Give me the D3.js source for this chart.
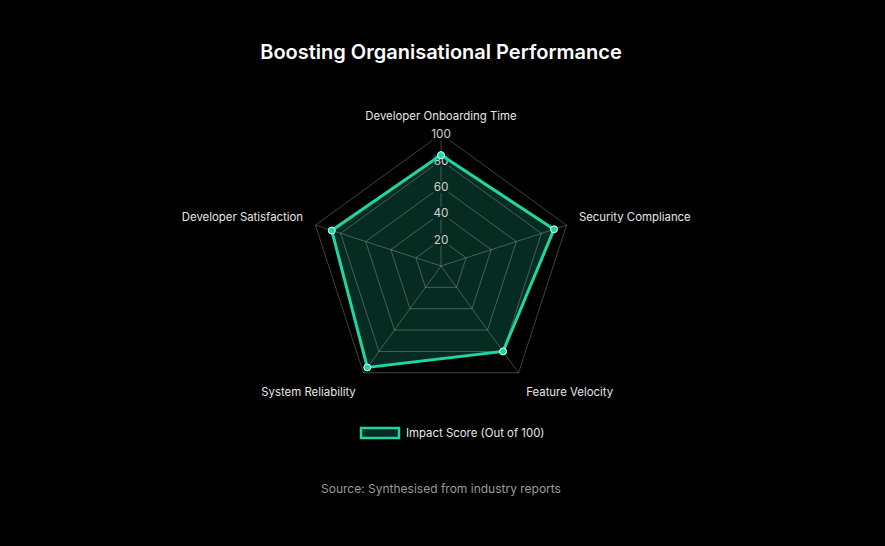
<!DOCTYPE html>
<html>
<head>
<meta charset="utf-8">
<script src="https://cdn.jsdelivr.net/npm/d3@7"></script>
<style>
  html, body { margin: 0; padding: 0; background: #000; }
  svg { display: block; font-family: Inter, "Noto Sans", sans-serif; }
</style>
</head>
<body>
<div id="chart"></div>
<script>
const categories = ["Developer Onboarding Time", "Security Compliance", "Feature Velocity", "System Reliability", "Developer Satisfaction"]
const impactScores = [84, 90, 80, 95, 87]
const tickValues = [20, 40, 60, 80, 100]
const seriesName = "Impact Score (Out of 100)"

const WIDTH = 885
const HEIGHT = 546
const CX = 441
const CY = 266
const R = 132
const LINE = "#1fd6a3"
const FILL = "rgba(31,214,163,0.2)"
const FILL_SOLID = "#062b21"
const FS = 11.4

const svg = d3.select("#chart")
  .append("svg")
    .attr("width", WIDTH)
    .attr("height", HEIGHT)

svg.append("rect")
  .attr("width", WIDTH)
  .attr("height", HEIGHT)
  .attr("fill", "#000")

svg.append("text")
  .attr("x", CX)
  .attr("y", 59)
  .attr("text-anchor", "middle")
  .attr("fill", "#fff")
  .attr("font-size", 20)
  .attr("font-weight", 600)
  .text("Boosting Organisational Performance")

const r = d3.scaleLinear().domain([0, 100]).range([0, R])
const angle = d3.scalePoint()
  .domain(categories)
  .range([0, 2 * Math.PI * (categories.length - 1) / categories.length])

const pt = (cat, v) => {
  const a = angle(cat)
  return [CX + r(v) * Math.sin(a), CY - r(v) * Math.cos(a)]
}

const g = svg.append("g")

// data fill first, grid drawn over it
g.append("path")
  .datum(categories.map((c, i) => pt(c, impactScores[i])))
  .attr("d", d => d3.line()(d) + "Z")
  .attr("fill", FILL)

// grid pentagons
g.selectAll("path.grid")
  .data(tickValues)
  .enter().append("path")
    .attr("class", "grid")
    .attr("d", v => d3.line()(categories.map(c => pt(c, v))) + "Z")
    .attr("fill", "none")
    .attr("stroke", "rgba(255,255,255,0.25)")
    .attr("stroke-width", 1)

// angle lines
g.selectAll("line.spoke")
  .data(categories)
  .enter().append("line")
    .attr("class", "spoke")
    .attr("x1", CX)
    .attr("y1", CY)
    .attr("x2", c => pt(c, 100)[0])
    .attr("y2", c => pt(c, 100)[1])
    .attr("stroke", "rgba(255,255,255,0.25)")
    .attr("stroke-width", 1)

// tick labels with backdrop
const topScore = impactScores[0]
const ticks = g.selectAll("g.tick")
  .data(tickValues)
  .enter().append("g")
    .attr("class", "tick")
    .attr("transform", v => `translate(${CX}, ${CY - r(v)})`)

ticks.append("rect")
  .attr("x", v => v >= 100 ? -11 : -8)
  .attr("y", -6)
  .attr("width", v => v >= 100 ? 22 : 16)
  .attr("height", 12)
  .attr("fill", v => v <= topScore ? FILL_SOLID : "#000")

ticks.append("text")
  .attr("text-anchor", "middle")
  .attr("dy", "0.36em")
  .attr("fill", "#d0d0d0")
  .attr("font-size", 11.8)
  .text(v => v)

// data line + points
g.append("path")
  .datum(categories.map((c, i) => pt(c, impactScores[i])))
  .attr("d", d => d3.line()(d) + "Z")
  .attr("fill", "none")
  .attr("stroke", LINE)
  .attr("stroke-width", 3)
  .attr("stroke-linejoin", "miter")

g.selectAll("circle")
  .data(categories)
  .enter().append("circle")
    .attr("cx", (c, i) => pt(c, impactScores[i])[0])
    .attr("cy", (c, i) => pt(c, impactScores[i])[1])
    .attr("r", 3.5)
    .attr("fill", LINE)
    .attr("stroke", "#dffff4")
    .attr("stroke-width", 1)

// point labels
const LR = R + 13
g.selectAll("text.label")
  .data(categories)
  .enter().append("text")
    .attr("class", "label")
    .attr("x", c => CX + LR * Math.sin(angle(c)))
    .attr("y", c => CY - LR * Math.cos(angle(c)))
    .attr("text-anchor", c => {
      const s = Math.sin(angle(c))
      return s > 0.05 ? "start" : s < -0.05 ? "end" : "middle"
    })
    .attr("dy", c => Math.cos(angle(c)) > 0 ? "-0.05em" : "1.1em")
    .attr("fill", "#e6e6e6")
    .attr("font-size", FS)
    .text(c => c)

// legend
const legend = svg.append("g").attr("transform", "translate(361, 428)")
legend.append("rect")
  .attr("width", 38)
  .attr("height", 10)
  .attr("fill", FILL)
  .attr("stroke", LINE)
  .attr("stroke-width", 2.5)
legend.append("text")
  .attr("x", 45)
  .attr("y", 5)
  .attr("dy", "0.36em")
  .attr("fill", "#e6e6e6")
  .attr("font-size", FS)
  .text(seriesName)

svg.append("text")
  .attr("x", CX)
  .attr("y", 493)
  .attr("text-anchor", "middle")
  .attr("fill", "#9a9a9a")
  .attr("font-size", 12)
  .text("Source: Synthesised from industry reports")
</script>
</body>
</html>
